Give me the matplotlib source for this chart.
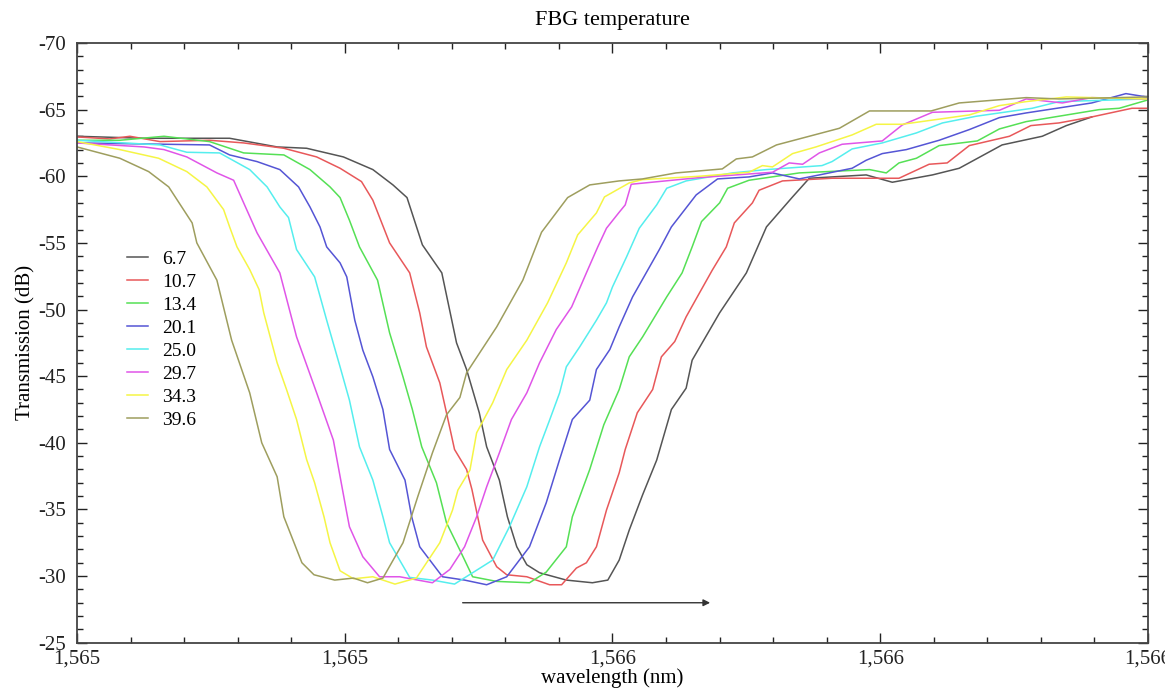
import matplotlib
matplotlib.use("Agg")
import matplotlib.pyplot as plt
from matplotlib.ticker import MultipleLocator, FuncFormatter

plt.rcParams['font.family'] = ['Liberation Serif', 'DejaVu Serif']
plt.rcParams['axes.unicode_minus'] = False

# temperatures (legend labels)
temps = ['6.7', '10.7', '13.4', '20.1', '25.0', '29.7', '34.3', '39.6']
colors = ['#555555', '#e8585a', '#55e055', '#5555d5', '#55eeee', '#e055e8', '#f5f545', '#9e9e5e']

# wavelength (nm) / transmission (dB)
wl_67 = [1564.800, 1564.900, 1565.028, 1565.099, 1565.143, 1565.198, 1565.242, 1565.272, 1565.293, 1565.316,
         1565.345, 1565.367, 1565.382, 1565.401, 1565.412, 1565.431, 1565.443, 1565.457, 1565.472, 1565.491,
         1565.531, 1565.570, 1565.593, 1565.610, 1565.625, 1565.645, 1565.666, 1565.688, 1565.710, 1565.719,
         1565.760, 1565.800, 1565.830, 1565.869, 1565.894, 1565.979, 1566.018, 1566.078, 1566.118, 1566.182,
         1566.242, 1566.278, 1566.316]
db_67 = [-63.0, -62.85, -62.85, -62.2, -62.1, -61.45, -60.5, -59.35, -58.4, -54.85,
         -52.75, -47.5, -45.5, -42.25, -39.7, -37.2, -34.45, -32.2, -30.85, -30.25,
         -29.7, -29.5, -29.7, -31.2, -33.45, -36.1, -38.7, -42.5, -44.1, -46.2,
         -49.75, -52.75, -56.2, -58.45, -59.85, -60.1, -59.55, -60.1, -60.6, -62.35,
         -63.0, -63.8, -64.45]

wl_107 = [1564.800, 1564.849, 1564.879, 1564.924, 1564.998, 1565.049, 1565.109, 1565.158, 1565.193, 1565.225,
          1565.242, 1565.267, 1565.297, 1565.312, 1565.322, 1565.342, 1565.352, 1565.364, 1565.382, 1565.390,
          1565.406, 1565.427, 1565.442, 1565.472, 1565.506, 1565.524, 1565.546, 1565.561, 1565.576, 1565.591,
          1565.610, 1565.619, 1565.637, 1565.660, 1565.673, 1565.693, 1565.710, 1565.730, 1565.749, 1565.770,
          1565.782, 1565.809, 1565.819, 1565.854, 1565.928, 1566.028, 1566.073, 1566.100, 1566.133, 1566.193,
          1566.225, 1566.267, 1566.316, 1566.376, 1566.398]
db_107 = [-62.95, -62.8, -63.0, -62.6, -62.7, -62.5, -62.1, -61.45, -60.6, -59.6,
          -58.2, -55.0, -52.75, -49.75, -47.2, -44.5, -42.25, -39.5, -38.0, -36.5,
          -32.7, -30.7, -30.1, -29.95, -29.35, -29.35, -30.6, -31.0, -32.2, -34.95,
          -37.75, -39.5, -42.25, -44.0, -46.45, -47.6, -49.45, -51.25, -52.95, -54.7,
          -56.5, -58.0, -58.95, -59.65, -59.85, -59.85, -60.9, -61.0, -62.3, -63.0,
          -63.8, -64.0, -64.45, -65.1, -65.1]

wl_134 = [1564.800, 1564.864, 1564.930, 1564.998, 1565.049, 1565.109, 1565.148, 1565.178, 1565.193, 1565.207,
          1565.222, 1565.249, 1565.267, 1565.287, 1565.301, 1565.315, 1565.337, 1565.352, 1565.372, 1565.391,
          1565.427, 1565.476, 1565.501, 1565.531, 1565.540, 1565.566, 1565.587, 1565.610, 1565.625, 1565.645,
          1565.681, 1565.704, 1565.719, 1565.733, 1565.760, 1565.772, 1565.804, 1565.879, 1565.984, 1566.009,
          1566.028, 1566.054, 1566.088, 1566.145, 1566.178, 1566.218, 1566.327, 1566.357, 1566.398]
db_134 = [-62.7, -62.7, -63.0, -62.6, -61.75, -61.6, -60.5, -59.2, -58.4, -56.7,
          -54.7, -52.2, -48.25, -44.95, -42.5, -39.7, -37.0, -34.0, -31.95, -29.95,
          -29.6, -29.5, -30.3, -32.2, -34.45, -38.0, -41.35, -44.0, -46.45, -47.95,
          -50.95, -52.75, -54.7, -56.6, -58.0, -59.1, -59.7, -60.25, -60.5, -60.25,
          -61.0, -61.35, -62.3, -62.65, -63.55, -64.1, -65.0, -65.1, -65.7]

wl_201 = [1564.800, 1564.998, 1565.028, 1565.069, 1565.103, 1565.131, 1565.148, 1565.163, 1565.173, 1565.193,
          1565.203, 1565.215, 1565.227, 1565.242, 1565.257, 1565.267, 1565.290, 1565.300, 1565.312, 1565.346,
          1565.379, 1565.412, 1565.442, 1565.476, 1565.501, 1565.521, 1565.540, 1565.566, 1565.576, 1565.596,
          1565.610, 1565.630, 1565.670, 1565.688, 1565.725, 1565.757, 1565.804, 1565.839, 1565.879, 1565.909,
          1565.958, 1565.979, 1566.003, 1566.039, 1566.088, 1566.133, 1566.178, 1566.218, 1566.316, 1566.367,
          1566.398]
db_201 = [-62.5, -62.35, -61.6, -61.1, -60.5, -59.2, -57.7, -56.2, -54.7, -53.5,
          -52.45, -49.2, -46.95, -44.95, -42.5, -39.5, -37.2, -34.45, -32.2, -29.95,
          -29.7, -29.35, -29.95, -32.2, -35.5, -38.75, -41.75, -43.2, -45.5, -47.0,
          -48.7, -50.95, -54.5, -56.2, -58.6, -59.8, -59.95, -60.25, -59.8, -60.1,
          -60.6, -61.2, -61.7, -62.0, -62.7, -63.5, -64.4, -64.75, -65.5, -66.2,
          -65.95]

wl_250 = [1564.800, 1564.924, 1564.964, 1565.013, 1565.058, 1565.084, 1565.103, 1565.116, 1565.128, 1565.155,
          1565.173, 1565.193, 1565.207, 1565.222, 1565.242, 1565.257, 1565.267, 1565.297, 1565.331, 1565.364,
          1565.391, 1565.421, 1565.446, 1565.472, 1565.491, 1565.506, 1565.521, 1565.531, 1565.551, 1565.576,
          1565.591, 1565.600, 1565.621, 1565.640, 1565.666, 1565.681, 1565.710, 1565.779, 1565.830, 1565.913,
          1565.928, 1565.958, 1566.003, 1566.054, 1566.093, 1566.143, 1566.227, 1566.267, 1566.398]
db_250 = [-62.7, -62.35, -61.8, -61.75, -60.5, -59.2, -57.7, -56.9, -54.5, -52.45,
          -49.2, -45.7, -43.2, -39.7, -37.2, -34.45, -32.5, -29.9, -29.7, -29.4,
          -30.25, -31.2, -33.7, -36.7, -39.7, -41.7, -43.75, -45.7, -47.2, -49.2,
          -50.5, -51.7, -53.95, -56.1, -57.85, -59.1, -59.65, -60.25, -60.5, -60.8,
          -61.1, -62.05, -62.5, -63.25, -64.0, -64.5, -65.1, -65.6, -65.8]

wl_297 = [1564.800, 1564.900, 1564.930, 1564.964, 1565.009, 1565.034, 1565.049, 1565.069, 1565.103, 1565.128,
          1565.158, 1565.183, 1565.192, 1565.203, 1565.207, 1565.227, 1565.252, 1565.282, 1565.331, 1565.357,
          1565.379, 1565.397, 1565.412, 1565.431, 1565.449, 1565.472, 1565.491, 1565.516, 1565.539, 1565.561,
          1565.578, 1565.591, 1565.610, 1565.619, 1565.628, 1565.730, 1565.839, 1565.864, 1565.884, 1565.909,
          1565.943, 1566.003, 1566.033, 1566.078, 1566.178, 1566.218, 1566.272, 1566.316, 1566.398]
db_297 = [-62.5, -62.2, -62.0, -61.45, -60.25, -59.7, -58.0, -55.75, -52.75, -47.95,
          -43.75, -40.2, -37.75, -34.75, -33.7, -31.45, -29.95, -29.95, -29.5, -30.5,
          -32.2, -34.45, -36.7, -39.25, -41.75, -43.75, -46.0, -48.5, -50.2, -52.75,
          -54.7, -56.1, -57.3, -57.85, -59.4, -59.9, -60.3, -61.0, -60.9, -61.75,
          -62.4, -62.65, -63.85, -64.8, -64.95, -65.8, -65.5, -65.9, -65.8]

wl_343 = [1564.800, 1564.864, 1564.922, 1564.964, 1564.994, 1565.019, 1565.028, 1565.039, 1565.058, 1565.072,
          1565.079, 1565.099, 1565.113, 1565.128, 1565.143, 1565.155, 1565.169, 1565.178, 1565.193, 1565.213,
          1565.242, 1565.275, 1565.307, 1565.342, 1565.361, 1565.369, 1565.387, 1565.397, 1565.421, 1565.442,
          1565.472, 1565.503, 1565.531, 1565.548, 1565.576, 1565.588, 1565.625, 1565.645, 1565.730, 1565.804,
          1565.824, 1565.839, 1565.869, 1565.904, 1565.958, 1565.994, 1566.033, 1566.133, 1566.178, 1566.218,
          1566.278, 1566.398]
db_343 = [-62.6, -62.0, -61.35, -60.35, -59.2, -57.5, -56.2, -54.7, -53.0, -51.5,
          -49.75, -46.0, -44.0, -41.75, -38.75, -37.0, -34.45, -32.5, -30.4, -29.8,
          -29.95, -29.4, -29.85, -32.5, -34.95, -36.45, -37.95, -40.75, -43.0, -45.5,
          -47.7, -50.5, -53.5, -55.6, -57.25, -58.45, -59.5, -59.75, -60.0, -60.3,
          -60.8, -60.7, -61.7, -62.2, -63.1, -63.9, -63.9, -64.6, -65.3, -65.6,
          -65.95, -65.8]

wl_396 = [1564.800, 1564.864, 1564.907, 1564.937, 1564.972, 1564.979, 1565.009, 1565.031, 1565.058, 1565.076,
          1565.099, 1565.109, 1565.136, 1565.154, 1565.185, 1565.213, 1565.234, 1565.257, 1565.287, 1565.309,
          1565.331, 1565.352, 1565.372, 1565.382, 1565.427, 1565.466, 1565.494, 1565.533, 1565.566, 1565.610,
          1565.645, 1565.695, 1565.764, 1565.785, 1565.809, 1565.845, 1565.939, 1565.984, 1566.076, 1566.118,
          1566.218, 1566.267, 1566.398]
db_396 = [-62.2, -61.35, -60.35, -59.2, -56.5, -55.0, -52.2, -47.7, -43.75, -40.0,
          -37.45, -34.45, -31.0, -30.1, -29.7, -29.85, -29.5, -29.85, -32.5, -35.95,
          -39.25, -42.1, -43.4, -45.25, -48.7, -52.2, -55.8, -58.4, -59.35, -59.65,
          -59.8, -60.25, -60.55, -61.3, -61.45, -62.35, -63.6, -64.9, -64.9, -65.5,
          -65.9, -65.8, -65.95]

wls = [wl_67, wl_107, wl_134, wl_201, wl_250, wl_297, wl_343, wl_396]
dbs = [db_67, db_107, db_134, db_201, db_250, db_297, db_343, db_396]

fig = plt.figure(figsize=(11.65, 6.92), dpi=100)
ax = fig.add_axes([0.0661, 0.0712, 0.9193, 0.8667])

for wl, db, c, t in zip(wls, dbs, colors, temps):
    ax.plot(wl, db, color=c, lw=1.1, label=t)

# arrow showing the shift
ax.annotate('', xy=(1565.750, -28.0), xytext=(1565.372, -28.0),
            arrowprops=dict(arrowstyle='-|>', color='#333333', lw=1.0, mutation_scale=10))

ax.set_xlim(1564.8, 1566.4)
ax.set_ylim(-25, -70)
ax.xaxis.set_major_locator(MultipleLocator(0.4))
ax.xaxis.set_minor_locator(MultipleLocator(0.08))
ax.xaxis.set_major_formatter(FuncFormatter(lambda v, p: f"{v:,.0f}"))
ax.yaxis.set_major_locator(MultipleLocator(5))
ax.yaxis.set_minor_locator(MultipleLocator(1))

ax.tick_params(which='both', direction='in', top=True, right=True, labelsize=15, colors='#222222')
ax.tick_params(which='major', length=7, width=1)
ax.tick_params(which='minor', length=4.5, width=1)
ax.tick_params(axis='y', pad=8)
ax.tick_params(axis='x', pad=5)
for s in ax.spines.values():
    s.set_color('#444444')
    s.set_linewidth(1.3)

ax.set_title('FBG temperature', fontsize=16, pad=13)
ax.set_xlabel('wavelength (nm)', fontsize=15, labelpad=0)
ax.set_ylabel('Transmission (dB)', fontsize=15, labelpad=2)

ax.legend(loc='upper left', bbox_to_anchor=(0.047, 0.655), frameon=False, fontsize=14,
          borderaxespad=0, borderpad=0, handlelength=1.05, handletextpad=0.75, labelspacing=0.28)

fig.savefig('out.png', dpi=100)
